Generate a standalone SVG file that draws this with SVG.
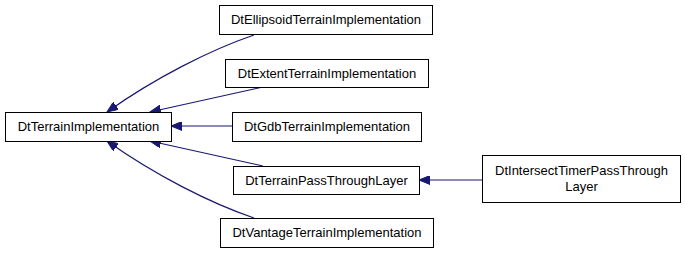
<svg xmlns="http://www.w3.org/2000/svg" width="685" height="253" viewBox="0 0 685 253">
<style>
.node rect{fill:#ffffff;stroke:#000000;stroke-width:1}
.node text{font-family:"Liberation Sans",Arial,sans-serif;font-size:13px;fill:#000000;text-anchor:middle}
.edge{fill:none;stroke:#191970;stroke-width:1.2}
</style>
<defs>
<marker id="ah" markerUnits="userSpaceOnUse" markerWidth="12" markerHeight="9" refX="11" refY="4.5" orient="auto">
<path d="M0,0 L11,4.5 L0,9 z" fill="#191970" stroke="#191970" stroke-width="1"/>
</marker>
</defs>
<rect width="685" height="253" fill="#ffffff"/>
<g id="connectors">
<path class="edge" d="M254,35 C210,50 155,78 107,112" marker-end="url(#ah)"/>
<path class="edge" d="M263,87 L150,112" marker-end="url(#ah)"/>
<path class="edge" d="M232,126 L171,126" marker-end="url(#ah)"/>
<path class="edge" d="M263,166 L150,141" marker-end="url(#ah)"/>
<path class="edge" d="M254,218 C210,203 155,175 107,141" marker-end="url(#ah)"/>
<path class="edge" d="M482,180 L419,180" marker-end="url(#ah)"/>
</g>
<g id="DtTerrainImplementation" class="node">
<rect x="5.5" y="112.5" width="166" height="29"/>
<text x="88.5" y="131">DtTerrainImplementation</text>
</g>
<g id="DtEllipsoidTerrainImplementation" class="node">
<rect x="219.5" y="5.5" width="213" height="29"/>
<text x="326" y="24">DtEllipsoidTerrainImplementation</text>
</g>
<g id="DtExtentTerrainImplementation" class="node">
<rect x="225.5" y="59.5" width="203" height="28"/>
<text x="327" y="78">DtExtentTerrainImplementation</text>
</g>
<g id="DtGdbTerrainImplementation" class="node">
<rect x="232.5" y="112.5" width="189" height="29"/>
<text x="327" y="131">DtGdbTerrainImplementation</text>
</g>
<g id="DtTerrainPassThroughLayer" class="node">
<rect x="233.5" y="166.5" width="186" height="28"/>
<text x="326.5" y="185">DtTerrainPassThroughLayer</text>
</g>
<g id="DtVantageTerrainImplementation" class="node">
<rect x="220.5" y="218.5" width="213" height="29"/>
<text x="327" y="237">DtVantageTerrainImplementation</text>
</g>
<g id="DtIntersectTimerPassThroughLayer" class="node">
<rect x="482.5" y="155.5" width="198" height="47"/>
<text x="581.5" y="175">DtIntersectTimerPassThrough</text>
<text x="581.5" y="191">Layer</text>
</g>
</svg>
